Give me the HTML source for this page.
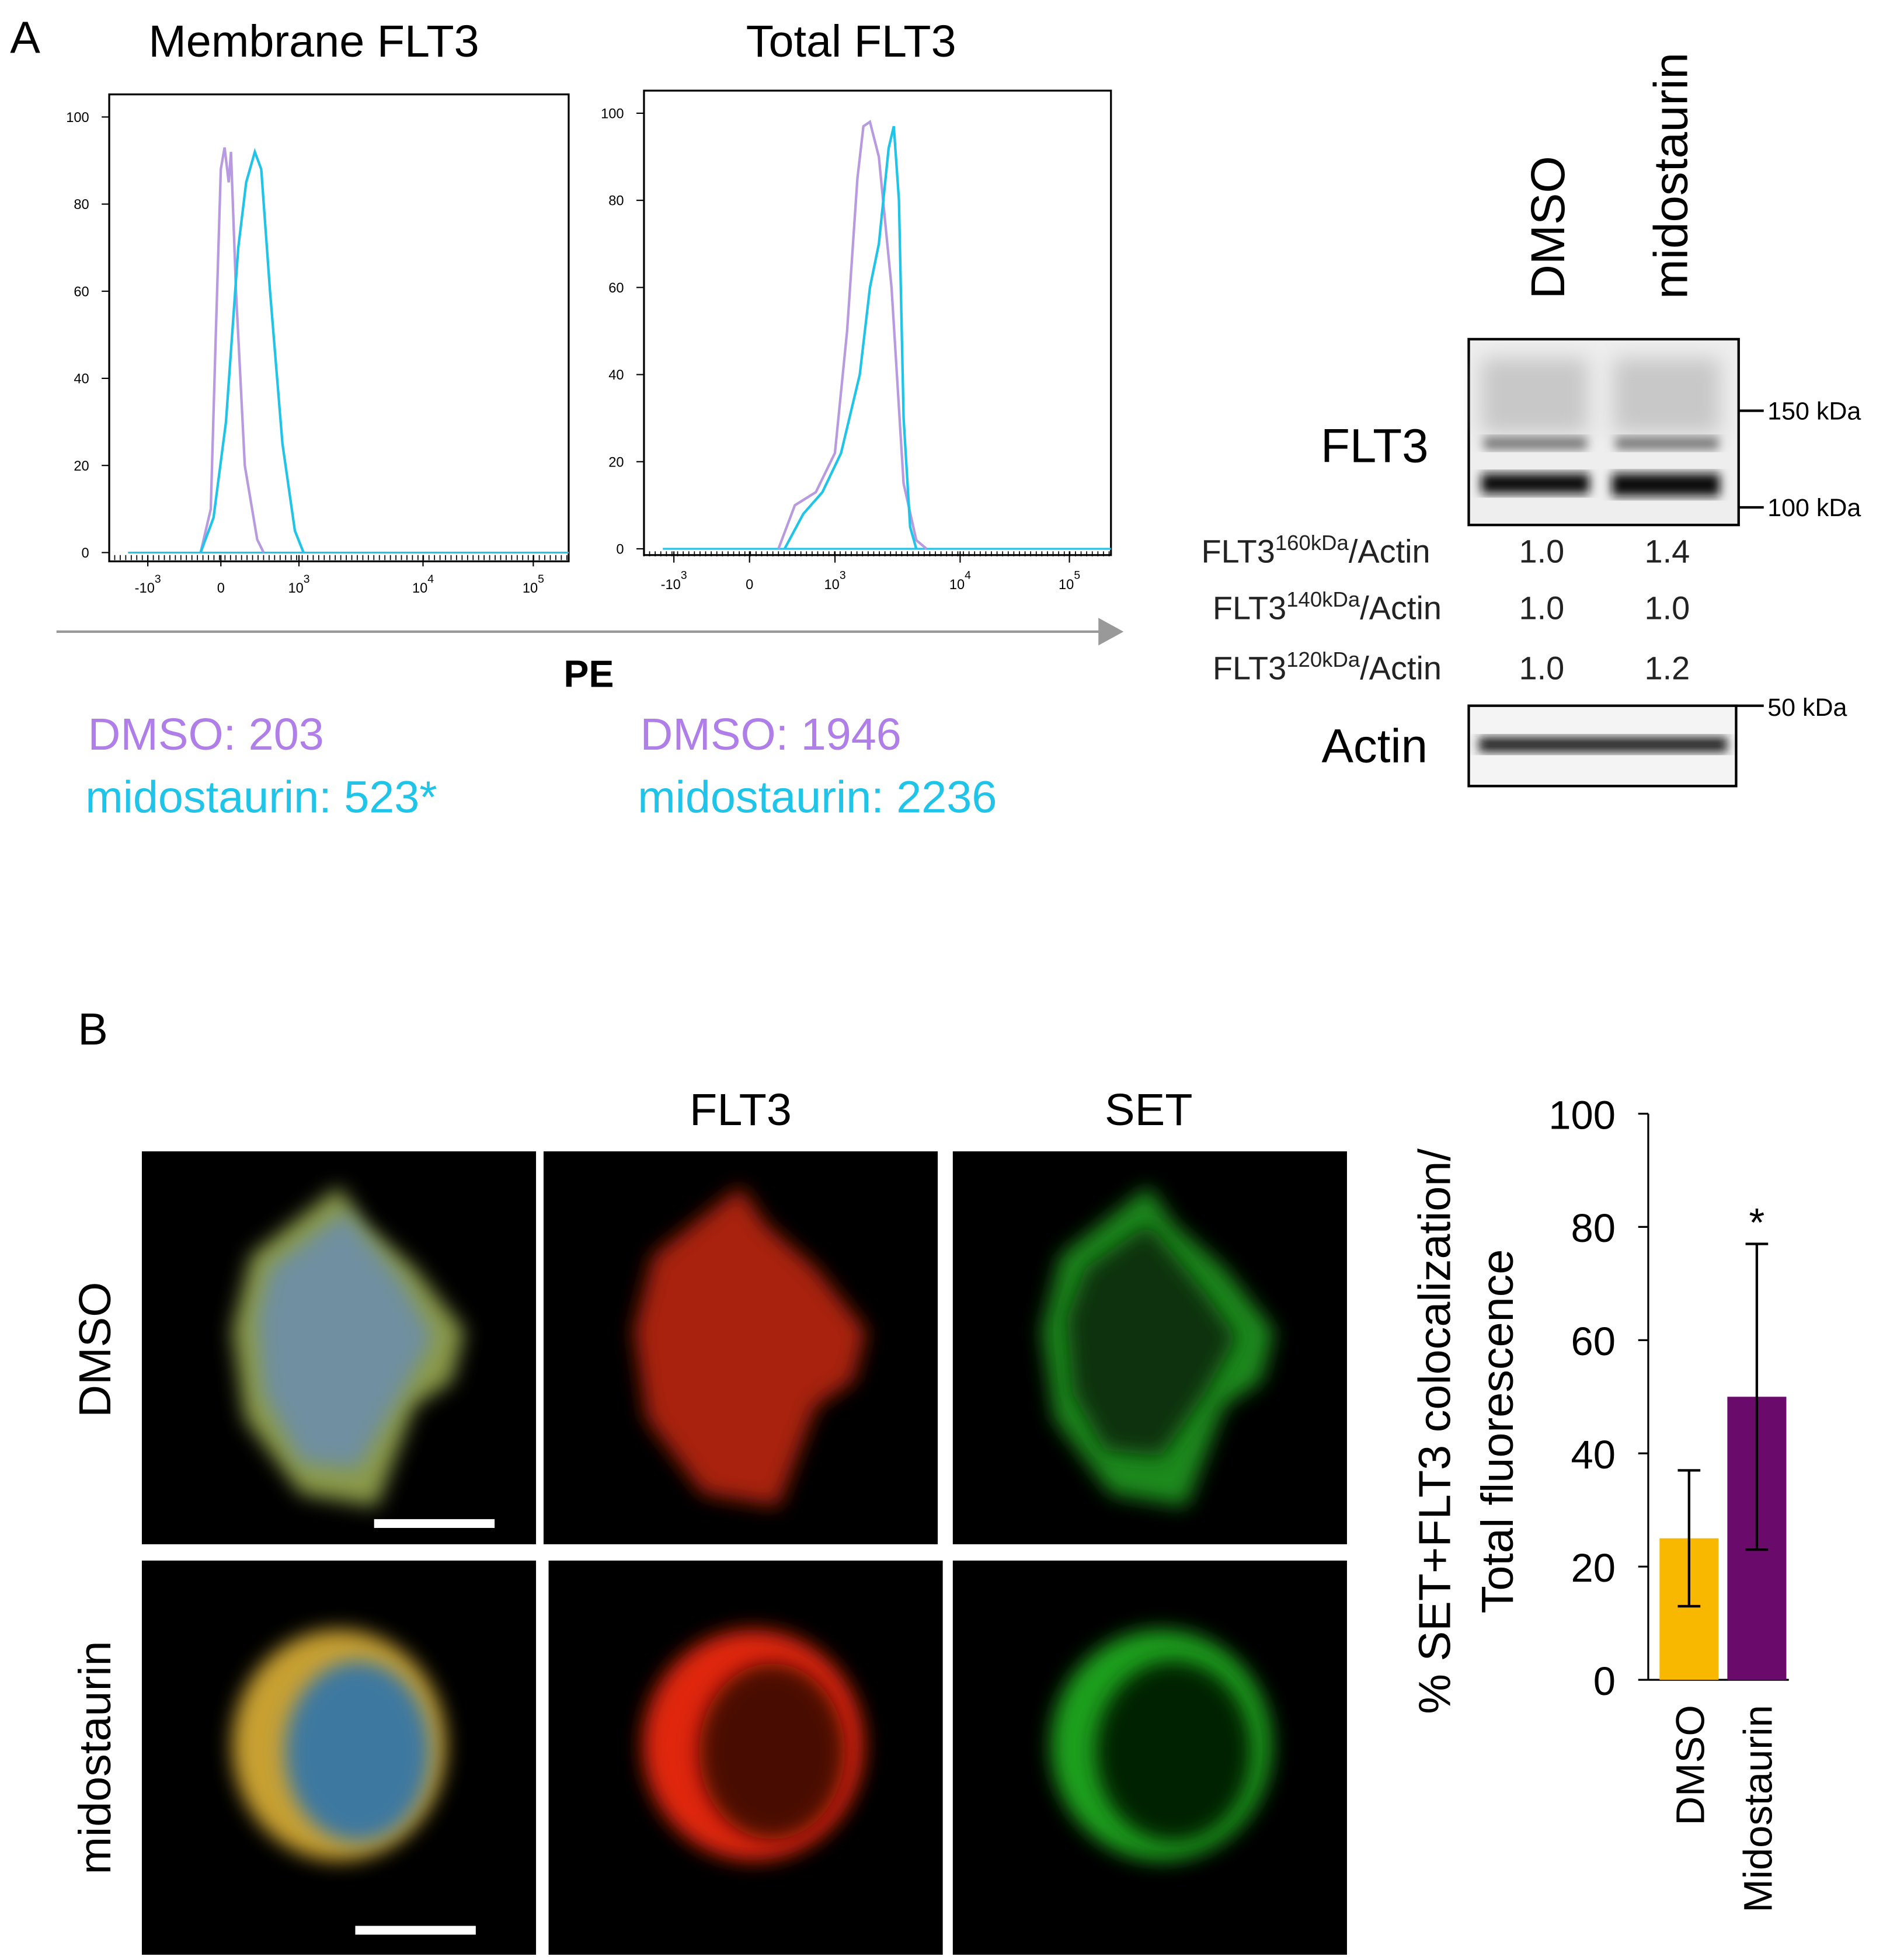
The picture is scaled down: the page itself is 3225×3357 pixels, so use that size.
<!DOCTYPE html>
<html><head><meta charset="utf-8"><style>
html,body{margin:0;padding:0;background:#fff;}
svg{display:block;font-family:"Liberation Sans",Arial,sans-serif;}
</style></head><body>
<svg id="fig" width="3225" height="3357" viewBox="0 0 1500 1561" xmlns="http://www.w3.org/2000/svg">
<defs>
<filter id="bl" x="-20%" y="-20%" width="140%" height="140%"><feGaussianBlur stdDeviation="8"/></filter>
<filter id="bl2" x="-20%" y="-20%" width="140%" height="140%"><feGaussianBlur stdDeviation="4"/></filter>
</defs>
<text x="8" y="42" font-size="36">A</text>
<text x="250" y="45" font-size="36" text-anchor="middle">Membrane FLT3</text>
<text x="678" y="45" font-size="36" text-anchor="middle">Total FLT3</text>
<rect x="87" y="75" width="366" height="372" fill="none" stroke="#000" stroke-width="1.5"/>
<rect x="513" y="72" width="372" height="370" fill="none" stroke="#000" stroke-width="1.5"/>
<g id="h1"></g>
<g id="h2"></g>
<line x1="45" y1="503" x2="880" y2="503" stroke="#999" stroke-width="2"/>
<polygon points="875,492 895,503 875,514" fill="#999"/>
<text x="469" y="547" font-size="30" font-weight="bold" text-anchor="middle">PE</text>
<g font-size="36">
<text x="70" y="597" fill="#b07ee8">DMSO: 203</text>
<text x="68" y="647" fill="#20c4e8">midostaurin: 523*</text>
<text x="510" y="597" fill="#b07ee8">DMSO: 1946</text>
<text x="508" y="647" fill="#20c4e8">midostaurin: 2236</text>
</g>
<text transform="translate(1246,238) rotate(-90)" font-size="38">DMSO</text>
<text transform="translate(1344,238) rotate(-90)" font-size="38">midostaurin</text>
<g>
<rect x="1170" y="270" width="215" height="148" fill="#eee" stroke="#000" stroke-width="2"/>
<rect x="1180" y="285" width="85" height="60" fill="#c8c8c8" filter="url(#bl)"/>
<rect x="1285" y="285" width="85" height="60" fill="#c8c8c8" filter="url(#bl)"/>
<rect x="1182" y="348" width="82" height="10" fill="#777" filter="url(#bl2)"/>
<rect x="1287" y="348" width="82" height="10" fill="#777" filter="url(#bl2)"/>
<rect x="1180" y="377" width="86" height="16" fill="#111" filter="url(#bl2)"/>
<rect x="1284" y="377" width="86" height="18" fill="#111" filter="url(#bl2)"/>
</g>
<line x1="1385" y1="327" x2="1405" y2="327" stroke="#000" stroke-width="2"/>
<line x1="1385" y1="404" x2="1405" y2="404" stroke="#000" stroke-width="2"/>
<text x="1408" y="334" font-size="20">150 kDa</text>
<text x="1408" y="411" font-size="20">100 kDa</text>
<text x="1095" y="368" font-size="38" text-anchor="middle">FLT3</text>
<g font-size="26" fill="#222">
<text x="957" y="448">FLT3<tspan font-size="17" dy="-10">160kDa</tspan><tspan dy="10">/Actin</tspan></text>
<text x="1210" y="448">1.0</text>
<text x="1310" y="448">1.4</text>
<text x="966" y="493">FLT3<tspan font-size="17" dy="-10">140kDa</tspan><tspan dy="10">/Actin</tspan></text>
<text x="1210" y="493">1.0</text>
<text x="1310" y="493">1.0</text>
<text x="966" y="541">FLT3<tspan font-size="17" dy="-10">120kDa</tspan><tspan dy="10">/Actin</tspan></text>
<text x="1210" y="541">1.0</text>
<text x="1310" y="541">1.2</text>
</g>
<g>
<rect x="1170" y="562" width="213" height="64" fill="#f4f4f4" stroke="#000" stroke-width="2"/>
<rect x="1178" y="587" width="198" height="12" fill="#222" filter="url(#bl2)"/>
</g>
<line x1="1383" y1="562" x2="1405" y2="562" stroke="#000" stroke-width="2"/>
<text x="1408" y="570" font-size="20">50 kDa</text>
<text x="1095" y="607" font-size="38" text-anchor="middle">Actin</text>
<text x="62" y="832" font-size="36">B</text>
<text x="590" y="896" font-size="36" text-anchor="middle">FLT3</text>
<text x="915" y="896" font-size="36" text-anchor="middle">SET</text>
<text transform="translate(88,1075) rotate(-90)" font-size="36" text-anchor="middle">DMSO</text>
<text transform="translate(88,1400) rotate(-90)" font-size="36" text-anchor="middle">midostaurin</text>
<g>
<rect x="113" y="917" width="314" height="313" fill="#000"/>
<rect x="433" y="917" width="314" height="313" fill="#000"/>
<rect x="759" y="917" width="314" height="313" fill="#000"/>
<rect x="113" y="1243" width="314" height="314" fill="#000"/>
<rect x="437" y="1243" width="314" height="314" fill="#000"/>
<rect x="759" y="1243" width="314" height="314" fill="#000"/>
<path d="M200,1000 L270,945 L290,975 L330,1010 L370,1060 L360,1100 L330,1120 L300,1200 L240,1190 L195,1130 L185,1060 Z" fill="#8a9a4a" filter="url(#bl)"/>
<path d="M215,1010 L275,965 L320,1020 L345,1065 L320,1110 L285,1170 L240,1165 L210,1110 L205,1050 Z" fill="#6f8fa0" filter="url(#bl)"/>
<path d="M520,1000 L590,945 L610,975 L650,1010 L690,1060 L680,1100 L650,1120 L620,1200 L560,1190 L515,1130 L505,1060 Z" fill="#a8200c" filter="url(#bl)"/>
<path d="M845,1000 L915,945 L935,975 L975,1010 L1015,1060 L1005,1100 L975,1120 L945,1200 L885,1190 L840,1130 L830,1060 Z" fill="#1c8a1c" filter="url(#bl)"/>
<path d="M865,1010 L915,975 L960,1030 L985,1065 L960,1110 L925,1160 L880,1155 L855,1110 L850,1050 Z" fill="#0a300a" filter="url(#bl)"/>
<ellipse cx="270" cy="1390" rx="85" ry="92" fill="#c8a030" filter="url(#bl)"/>
<ellipse cx="285" cy="1395" rx="58" ry="72" fill="#3d78a0" filter="url(#bl)"/>
<ellipse cx="600" cy="1390" rx="88" ry="92" fill="#e02808" filter="url(#bl)"/>
<ellipse cx="615" cy="1395" rx="58" ry="70" fill="#4a0c04" filter="url(#bl)"/>
<ellipse cx="925" cy="1390" rx="88" ry="92" fill="#1ca01c" filter="url(#bl)"/>
<ellipse cx="935" cy="1395" rx="62" ry="72" fill="#052205" filter="url(#bl)"/>
<rect x="298" y="1210" width="96" height="7" fill="#fff"/>
<rect x="283" y="1534" width="96" height="7" fill="#fff"/>
</g>
<g id="bar"></g>
<text transform="translate(1155,1140) rotate(-90)" font-size="36" text-anchor="middle">% SET+FLT3 colocalization/</text>
<text transform="translate(1205,1140) rotate(-90)" font-size="36" text-anchor="middle">Total fluorescence</text>
</svg>
<script>
const h1PurpleX=[199,221,232,243,251,260,265,276,295,322,336];
const h1PurpleY=[0,10,50,88,93,85,92,60,20,3,0];
const h1CyanX=[199,227,254,281,298,317,331,350,377,404,423];
const h1CyanY=[0,8,30,70,85,92,88,60,25,5,0];
const h2PurpleX=[288,323,368,409,435,457,470,484,503,530,556,583,605];
const h2PurpleY=[0,10,13,22,50,85,97,98,90,60,15,2,0];
const h2CyanX=[301,341,382,422,462,484,503,524,535,546,556,570,583];
const h2CyanY=[0,8,13,22,40,60,70,92,97,80,30,5,0];
const yTicks=[0,20,40,60,80,100];
const xTickLabels=["-10","0","10","10","10"];
const xTickExp=["3","","3","4","5"];
const h1XTickPos=[84,243,413,683,923];
const h2XTickPos=[64,226,409,677,911];
const barCats=["DMSO","Midostaurin"];
const barVals=[25,50];
const barErrLo=[13,23];
const barErrHi=[37,77];
const barColors=["#f8b800","#6a0a6a"];
const barYTicks=[0,20,40,60,80,100];

const NS="http://www.w3.org/2000/svg";
function mk(tag,attrs,parent){const e=document.createElementNS(NS,tag);for(const k in attrs)e.setAttribute(k,attrs[k]);parent.appendChild(e);return e;}

function histo(g,fx,fw,y0,y100,curves,tickPos){
  const sx=v=>fx+v/1000*fw, sy=v=>y0+(y100-y0)*v/100;
  mk('line',{x1:fx+15,y1:y0,x2:fx+fw,y2:y0,stroke:'#20c4e8','stroke-width':1.5},g);
  curves.forEach(c=>{
    const d=c.x.map((v,i)=>(i?'L':'M')+sx(v).toFixed(1)+','+sy(c.y[i]).toFixed(1)).join(' ');
    const p=mk('path',{d:d,fill:'none',stroke:c.col,'stroke-width':2},g);
    
    
  });
  yTicks.forEach(t=>{
    const y=sy(t);
    mk('line',{x1:fx-6,y1:y,x2:fx,y2:y,stroke:'#000'},g);
    const tx=mk('text',{x:fx-16,y:y+4,'font-size':11,'text-anchor':'end'},g);tx.textContent=t;
    
    
  });
  for(let v=0;v<=1000;v+=12){mk('line',{x1:sx(v),y1:y0+2,x2:sx(v),y2:y0+6,stroke:'#000','stroke-width':0.8},g);}
  tickPos.forEach((v,i)=>{
    mk('line',{x1:sx(v),y1:y0+2,x2:sx(v),y2:y0+11,stroke:'#000'},g);
    const tx=mk('text',{x:sx(v),y:y0+32,'font-size':11,'text-anchor':'middle'},g);
    tx.textContent=xTickLabels[i];
    if(xTickExp[i]){const ts=mk('tspan',{dy:-8,'font-size':9},tx);ts.textContent=xTickExp[i];}
    
    
  });
}
histo(document.getElementById('h1'),87,366,440,93,[
  {x:h1PurpleX,y:h1PurpleY,col:'#b89ae0',name:'membrane-dmso-curve'},
  {x:h1CyanX,y:h1CyanY,col:'#20c4e8',name:'membrane-midostaurin-curve'}],h1XTickPos);
histo(document.getElementById('h2'),513,372,437,90,[
  {x:h2PurpleX,y:h2PurpleY,col:'#b89ae0',name:'total-dmso-curve'},
  {x:h2CyanX,y:h2CyanY,col:'#20c4e8',name:'total-midostaurin-curve'}],h2XTickPos);

(function(){
  const g=document.getElementById('bar');
  const ax=1313,y0=1338,y100=887;
  const sy=v=>y0+(y100-y0)*v/100;
  const bx=[1322,1376],bw=47;
  mk('line',{x1:ax,y1:y100,x2:ax,y2:y0,stroke:'#000','stroke-width':1.5},g);
  mk('line',{x1:ax,y1:y0,x2:1425,y2:y0,stroke:'#000','stroke-width':1.5},g);
  barYTicks.forEach(t=>{
    mk('line',{x1:ax-8,y1:sy(t),x2:ax,y2:sy(t),stroke:'#000','stroke-width':1.5},g);
    const tx=mk('text',{x:ax-26,y:sy(t)+12,'font-size':32,'text-anchor':'end'},g);tx.textContent=t;
    
    
  });
  barVals.forEach((v,i)=>{
    const r=mk('rect',{x:bx[i],y:sy(v),width:bw,height:y0-sy(v),fill:barColors[i]},g);
    
    
    const cx=bx[i]+bw/2;
    const e=mk('path',{d:`M${cx},${sy(barErrLo[i])} V${sy(barErrHi[i])} M${cx-9},${sy(barErrHi[i])} H${cx+9} M${cx-9},${sy(barErrLo[i])} H${cx+9}`,stroke:'#000','stroke-width':2,fill:'none'},g);
    
    
    const lb=mk('text',{transform:`translate(${cx+12},1358) rotate(-90)`,'font-size':32,'text-anchor':'end'},g);
    lb.textContent=barCats[i];
    
    
  });
  const st=mk('text',{x:bx[1]+bw/2,y:sy(barErrHi[1])-6,'font-size':32,'text-anchor':'middle'},g);
  st.textContent='*';
  
  
})();
</script>
</body></html>
